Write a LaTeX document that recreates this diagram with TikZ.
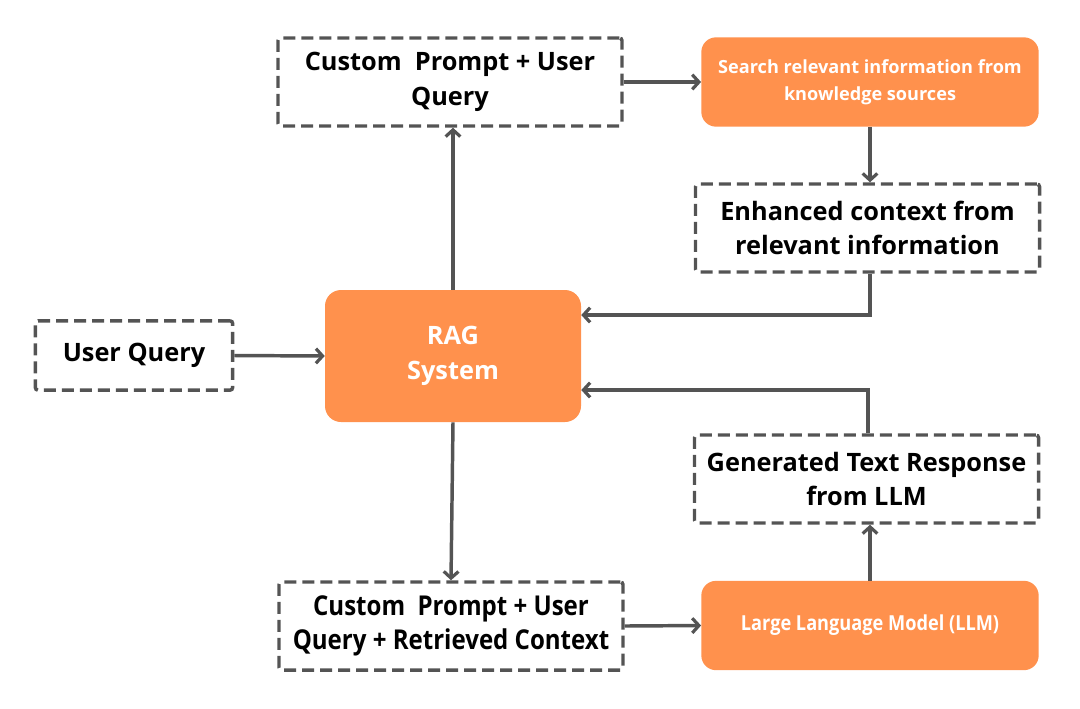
\documentclass[tikz,border=0pt]{standalone}
\usepackage{fontspec}
\setmainfont{Open Sans}
\newfontfamily\narrowfont[FakeStretch=0.88]{Open Sans}
\usepackage{tikz}
\usetikzlibrary{arrows.meta,positioning,calc}
\definecolor{ragorange}{RGB}{255,145,77}
\definecolor{linegrey}{RGB}{84,84,84}

\begin{document}
\begin{tikzpicture}[
    x=0.75pt, y=-0.75pt,
    box/.style={rectangle, draw=linegrey, line width=2.6pt, dash pattern=on 9pt off 4.5pt, rounded corners=2pt, align=center, inner sep=0pt, font=\bfseries\fontsize{19}{26}\selectfont},
    orng/.style={rectangle, fill=ragorange, rounded corners=11pt, align=center, inner sep=0pt, text=white, font=\bfseries\fontsize{13.6}{20}\selectfont},
    arrow/.style={-{Straight Barb[length=5pt,width=11pt,line width=2.4pt]}, line width=2.6pt, draw=linegrey}
]
    \useasboundingbox (0,0) rectangle (1080,708);

    \node[box, minimum width=258pt, minimum height=66pt] (prompt) at (450,82) {Custom\ \ Prompt + User\\Query};
    \node[orng, minimum width=253pt, minimum height=67pt] (search) at (870,82) {Search relevant information from\\knowledge sources};
    \node[box, minimum width=258pt, minimum height=66pt] (context) at (867.5,228) {Enhanced context from\\relevant information};
    \node[orng, rounded corners=12pt, minimum width=192pt, minimum height=99pt, font=\bfseries\fontsize{19}{26}\selectfont] (rag) at (453,356) {RAG\\System};
    \node[box, minimum width=148pt, minimum height=52pt] (query) at (134,355.5) {User Query};
    \node[box, minimum width=258pt, minimum height=66pt] (response) at (866.5,479) {Generated Text Response\\from LLM};
    \node[box, minimum width=258pt, minimum height=66pt, font=\narrowfont\bfseries\fontsize{20.5}{26}\selectfont] (augm) at (451,626) {Custom\ \ Prompt + User\\Query + Retrieved Context};
    \node[orng, minimum width=253pt, minimum height=67pt, font=\narrowfont\bfseries\fontsize{15.5}{20}\selectfont] (llm) at (870,625.5) {Large Language Model (LLM)};

    \draw[arrow] (rag.north) -- (rag.north |- prompt.south);
    \draw[arrow] (prompt.east) -- (search.west);
    \draw[arrow] (search.south) -- (search.south |- context.north);
    \draw[arrow] ([xshift=2pt]context.south) |- ([yshift=30.75pt]rag.east);
    \draw[arrow] ([xshift=1pt]response.north) |- ([yshift=-25.5pt]rag.east);
    \draw[arrow] (query.east) -- (rag.west);
    \draw[arrow] (rag.south) -- (augm.north);
    \draw[arrow] (augm.east) -- (llm.west);
    \draw[arrow] (llm.north) -- (llm.north |- response.south);
\end{tikzpicture}
\end{document}
